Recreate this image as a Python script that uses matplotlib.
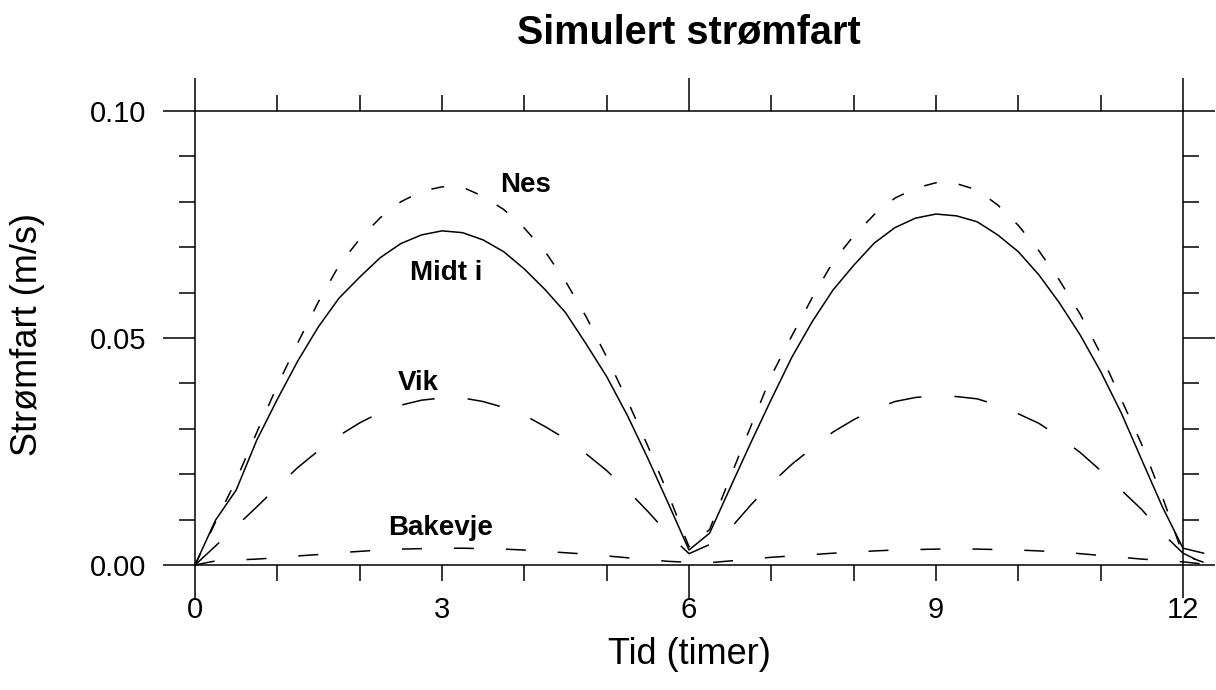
import matplotlib
matplotlib.use("Agg")
import matplotlib.pyplot as plt

plt.rcParams['font.family'] = ['Liberation Sans', 'DejaVu Sans']
plt.rcParams['lines.scale_dashes'] = False

# tid i timer, steg på 0.25
tid = [i * 0.25 for i in range(50)]

nes = [0.0, 0.0095, 0.0187, 0.0292, 0.0395, 0.0490, 0.0580, 0.0660, 0.0718, 0.0765,
       0.0800, 0.0823, 0.0833, 0.0832, 0.0812, 0.0783, 0.0742, 0.0691, 0.0625, 0.0547,
       0.0458, 0.0363, 0.0262, 0.0155, 0.0040,
       0.0078, 0.0193, 0.0305, 0.0417, 0.0505, 0.0590, 0.0668, 0.0725, 0.0772, 0.0808,
       0.0830, 0.0842, 0.0840, 0.0826, 0.0793, 0.0748, 0.0692, 0.0627, 0.0553, 0.0465,
       0.0365, 0.0265, 0.0150, 0.0022, 0.0006]

midt = [0.0, 0.0099, 0.0165, 0.0275, 0.0365, 0.0450, 0.0525, 0.0588, 0.0634, 0.0677,
        0.0708, 0.0727, 0.0736, 0.0732, 0.0716, 0.0690, 0.0652, 0.0607, 0.0556, 0.0487,
        0.0415, 0.0330, 0.0235, 0.0135, 0.0033,
        0.0070, 0.0170, 0.0269, 0.0365, 0.0458, 0.0537, 0.0606, 0.0660, 0.0709, 0.0743,
        0.0764, 0.0773, 0.0769, 0.0756, 0.0727, 0.0690, 0.0639, 0.0577, 0.0507, 0.0426,
        0.0335, 0.0231, 0.0128, 0.0037, 0.0026]

vik = [0.0, 0.0042, 0.0085, 0.0128, 0.0172, 0.0215, 0.0252, 0.0285, 0.0313, 0.0336,
       0.0352, 0.0363, 0.0368, 0.0368, 0.0360, 0.0347, 0.0330, 0.0305, 0.0278, 0.0245,
       0.0208, 0.0165, 0.0118, 0.0068, 0.0025,
       0.0045, 0.0080, 0.0132, 0.0180, 0.0222, 0.0258, 0.0293, 0.0320, 0.0343, 0.0360,
       0.0369, 0.0373, 0.0371, 0.0366, 0.0352, 0.0333, 0.0312, 0.0282, 0.0248, 0.0208,
       0.0165, 0.0122, 0.0070, 0.0026, 0.0004]

bakevje = [0.0, 0.0009, 0.0011, 0.0013, 0.0016, 0.0020, 0.0023, 0.0027, 0.0030, 0.0033,
           0.0035, 0.0036, 0.0037, 0.0037, 0.0036, 0.0035, 0.0033, 0.0030, 0.0027, 0.0024,
           0.0020, 0.0016, 0.0012, 0.0008, 0.0006,
           0.0005, 0.0009, 0.0013, 0.0017, 0.0020, 0.0023, 0.0026, 0.0028, 0.0031, 0.0033,
           0.0034, 0.0035, 0.0036, 0.0035, 0.0034, 0.0033, 0.0031, 0.0029, 0.0025, 0.0021,
           0.0017, 0.0013, 0.0010, 0.0007, 0.0002]

# etiketter: tekst, x, y
etiketter = [("Nes", 4.01, 0.0837), ("Midt i", 3.05, 0.0643),
             ("Vik", 2.71, 0.0400), ("Bakevje", 2.98, 0.0081)]

xticks = [0, 3, 6, 9, 12]
yticks = [0.0, 0.05, 0.10]

fig = plt.figure(figsize=(12.16, 6.9), dpi=100)
ax = fig.add_axes([195 / 1216, 1 - 565 / 690, 988 / 1216, 454 / 690])

lw = 1.1
ax.plot(tid, nes, color='k', lw=lw, ls=(0, (9.4, 15.8)), clip_on=False)
ax.plot(tid, midt, color='k', lw=lw, ls='-', clip_on=False)
ax.plot(tid, vik, color='k', lw=lw, ls=(0, (23.8, 23.8)), clip_on=False)
ax.plot(tid, bakevje, color='k', lw=lw, ls=(0, (14.4, 23.0)), clip_on=False)

for tekst, x, y in etiketter:
    ax.text(x, y, tekst, ha='center', va='center', fontsize=20, fontweight='bold')

ax.set_xlim(0, 12)
ax.set_ylim(0, 0.1)
ax.set_xticks(xticks)
ax.set_xticklabels([str(t) for t in xticks])
ax.set_xticks(range(13), minor=True)
ax.set_yticks(yticks)
ax.set_yticklabels(["%.2f" % t for t in yticks])
ax.set_yticks([i * 0.01 for i in range(11)], minor=True)

for s in ax.spines.values():
    s.set_linewidth(lw)
ax.tick_params(axis='x', which='both', direction='out', length=11.5, width=lw,
               top=True, bottom=True, labelsize=21, pad=11)
ax.tick_params(axis='y', which='major', direction='out', length=23, width=lw,
               left=True, right=True, labelsize=21, pad=12)
ax.tick_params(axis='y', which='minor', direction='out', length=11.5, width=lw,
               left=True, right=True)

# lange streker ved 0, 6 og 12
for i, t in enumerate(ax.xaxis.get_major_ticks()):
    if xticks[i] % 6 == 0:
        t.tick1line.set_markersize(23.8)
        t.tick2line.set_markersize(23.8)

fig.text(689 / 1216, 1 - 33 / 690, "Simulert strømfart", ha='center', va='center',
         fontsize=28.5, fontweight='bold')
fig.text(689 / 1216, 1 - 655 / 690, "Tid (timer)", ha='center', va='center', fontsize=26)
fig.text(28 / 1216, 1 - 335 / 690, "Strømfart (m/s)", ha='center', va='center',
         rotation=90, fontsize=26)

fig.savefig("out.png", dpi=100)
